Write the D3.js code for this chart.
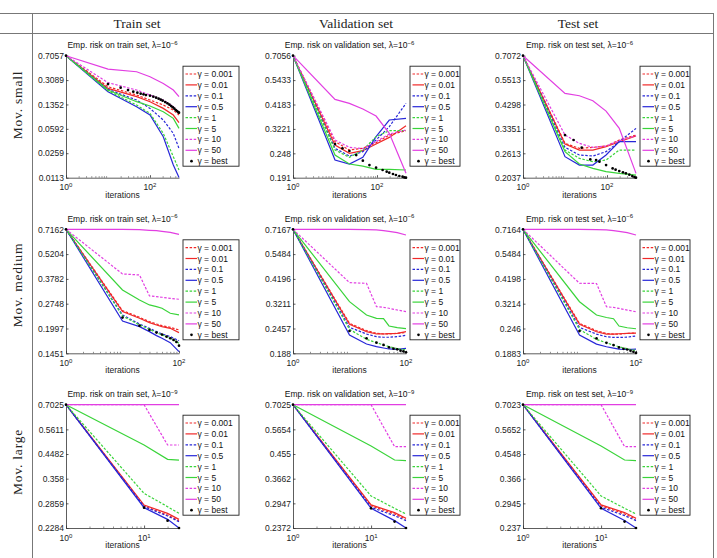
<!DOCTYPE html>
<html>
<head>
<meta charset="utf-8">
<script src="https://d3js.org/d3.v7.min.js"></script>
<style>
  body { margin: 0; background: #fff; }
  svg { font-family: "Liberation Sans", Arial, sans-serif; }
  .head { font-family: "Liberation Serif", serif; font-size: 13.5px; font-weight: 400; fill: #222; }
  .rowlab { font-family: "Liberation Serif", serif; font-size: 13.5px; font-weight: 400; letter-spacing: 0.8px; fill: #222; }
  .tick text { font-size: 8.5px; fill: #222; }
</style>
</head>
<body>
<svg id="chart" width="717" height="558"></svg>
<script>
// ---- table labels ----
var colNames = ["Train set", "Validation set", "Test set"];
var rowNames = ["Mov. small", "Mov. medium", "Mov. large"];
var setWords = ["train", "validation", "test"];
var lambdaExp = ["\u22126", "\u22126", "\u22129"];
var gammaLabels = ["\u03b3 = 0.001", "\u03b3 = 0.01", "\u03b3 = 0.1", "\u03b3 = 0.5", "\u03b3 = 1", "\u03b3 = 5", "\u03b3 = 10", "\u03b3 = 50", "\u03b3 = best"];

// ---- x axes (iterations) ----
var xMaxRow = [490, 100, 28];
var xTickRow = [[1, 100], [1, 100], [1, 10]];
var xTickExp = [["0", "2"], ["0", "2"], ["0", "1"]];

// ---- y ticks per panel ----
var yTicksSmallTrain = [0.7057, 0.3089, 0.1352, 0.0592, 0.0259, 0.0113];
var yTicksSmallVal   = [0.7056, 0.5433, 0.4183, 0.3221, 0.248, 0.191];
var yTicksSmallTest  = [0.7072, 0.5513, 0.4298, 0.3351, 0.2613, 0.2037];
var yTicksMedTrain   = [0.7162, 0.5204, 0.3782, 0.2748, 0.1997, 0.1451];
var yTicksMedVal     = [0.7167, 0.5484, 0.4196, 0.3211, 0.2457, 0.188];
var yTicksMedTest    = [0.7164, 0.5484, 0.4198, 0.3214, 0.246, 0.1883];
var yTicksLargeTrain = [0.7025, 0.5611, 0.4482, 0.358, 0.2859, 0.2284];
var yTicksLargeVal   = [0.7025, 0.5654, 0.455, 0.3662, 0.2947, 0.2372];
var yTicksLargeTest  = [0.7023, 0.5652, 0.4548, 0.366, 0.2945, 0.237];

// ---- iterations where the curves were read ----
var iterSmallTrain = [1, 10, 48, 100, 207, 359, 490];
var iterSmallVal   = [1, 10, 22, 46, 95, 196, 490];
var iterSmallTest  = [1, 10, 22, 46, 95, 196, 490];
var iterMedium     = [1, 10, 20, 30, 40, 50, 70, 100];
var iterLarge      = [1, 10, 20, 28];

// ---- risk curves, one row per gamma: 0.001, 0.01, 0.1, 0.5, 1, 5, 10, 50 ----
var riskSmallTrain = [
  [0.7057, 0.2468, 0.1861, 0.1571, 0.1326, 0.112, 0.0945],
  [0.7057, 0.2332, 0.176, 0.1485, 0.1184, 0.0945, 0.0728],
  [0.7057, 0.2254, 0.1571, 0.1184, 0.0797, 0.0507, 0.0305],
  [0.7057, 0.2084, 0.1253, 0.0945, 0.0453, 0.0174, 0.0114],
  [0.7057, 0.2155, 0.1326, 0.0999, 0.0507, 0.023, 0.0147],
  [0.7057, 0.2205, 0.1485, 0.1282, 0.1058, 0.0844, 0.0601],
  [0.7057, 0.283, 0.2205, 0.1861, 0.1571, 0.1253, 0.1023],
  [0.7057, 0.449, 0.41, 0.346, 0.276, 0.2205, 0.176]
];
var riskSmallVal = [
  [0.7056, 0.2809, 0.2569, 0.2616, 0.2779, 0.3017, 0.316],
  [0.7056, 0.2711, 0.2479, 0.2551, 0.274, 0.2942, 0.3334],
  [0.7056, 0.2616, 0.2409, 0.2524, 0.286, 0.3298, 0.4236],
  [0.7056, 0.2308, 0.2211, 0.2375, 0.2964, 0.3543, 0.3606],
  [0.7056, 0.2569, 0.2375, 0.2569, 0.2964, 0.316, 0.316],
  [0.7056, 0.2435, 0.2211, 0.2163, 0.2089, 0.2089, 0.2074],
  [0.7056, 0.286, 0.2644, 0.2607, 0.2809, 0.305, 0.3182],
  [0.7056, 0.442, 0.4236, 0.3985, 0.3698, 0.3072, 0.2001]
];
var riskSmallTest = [
  [0.7072, 0.2891, 0.2748, 0.2776, 0.2814, 0.2992, 0.3148],
  [0.7072, 0.2871, 0.2701, 0.2701, 0.2795, 0.2941, 0.3116],
  [0.7072, 0.2776, 0.2567, 0.2541, 0.2656, 0.2941, 0.337],
  [0.7072, 0.2524, 0.2318, 0.2318, 0.2567, 0.2941, 0.2941],
  [0.7072, 0.2701, 0.2481, 0.2398, 0.2439, 0.2701, 0.2701],
  [0.7072, 0.2656, 0.2342, 0.224, 0.2166, 0.2129, 0.2093],
  [0.7072, 0.3148, 0.2891, 0.2776, 0.2814, 0.2971, 0.3126],
  [0.7072, 0.4816, 0.4701, 0.4468, 0.402, 0.337, 0.2129]
];
var riskMedTrain = [
  [0.7162, 0.2513, 0.2307, 0.2181, 0.2116, 0.2071, 0.2028, 0.196],
  [0.7162, 0.2482, 0.2278, 0.2153, 0.2089, 0.2045, 0.2002, 0.1894],
  [0.7162, 0.2377, 0.2116, 0.2002, 0.1918, 0.1862, 0.1799, 0.1707],
  [0.7162, 0.22, 0.2045, 0.1918, 0.1822, 0.1761, 0.1665, 0.1483],
  [0.7162, 0.2347, 0.2089, 0.1977, 0.1894, 0.1838, 0.1761, 0.1651],
  [0.7162, 0.328, 0.2884, 0.2704, 0.2646, 0.259, 0.2429, 0.2377],
  [0.7162, 0.403, 0.3978, 0.3037, 0.301, 0.2985, 0.2946, 0.2909],
  [0.7162, 0.7162, 0.7131, 0.707, 0.704, 0.698, 0.6891, 0.6716]
];
var riskMedVal = [
  [0.7167, 0.2599, 0.2401, 0.2333, 0.2316, 0.2316, 0.2333, 0.235],
  [0.7167, 0.2571, 0.2375, 0.2316, 0.2316, 0.2325, 0.2333, 0.2375],
  [0.7167, 0.2488, 0.2316, 0.225, 0.2235, 0.2235, 0.225, 0.2283],
  [0.7167, 0.2291, 0.2079, 0.202, 0.1991, 0.197, 0.1962, 0.1984],
  [0.7167, 0.2435, 0.2187, 0.2109, 0.2057, 0.202, 0.1977, 0.1949],
  [0.7167, 0.3283, 0.2844, 0.2743, 0.2733, 0.2525, 0.248, 0.2453],
  [0.7167, 0.403, 0.4001, 0.3111, 0.3089, 0.3056, 0.3001, 0.2948],
  [0.7167, 0.7167, 0.7141, 0.7116, 0.7064, 0.7014, 0.6913, 0.6741]
];
var riskMedTest = [
  [0.7164, 0.2599, 0.2401, 0.2333, 0.2316, 0.2316, 0.2333, 0.2345],
  [0.7164, 0.2571, 0.2375, 0.2316, 0.2316, 0.2325, 0.2333, 0.234],
  [0.7164, 0.2488, 0.2316, 0.225, 0.2235, 0.2235, 0.224, 0.227],
  [0.7164, 0.2291, 0.2079, 0.202, 0.1991, 0.197, 0.1962, 0.197],
  [0.7164, 0.2435, 0.2187, 0.2109, 0.2057, 0.202, 0.1977, 0.194],
  [0.7164, 0.3282, 0.2844, 0.277, 0.2733, 0.2525, 0.248, 0.2453],
  [0.7164, 0.4005, 0.3995, 0.3108, 0.3087, 0.3055, 0.3, 0.2946],
  [0.7164, 0.7164, 0.714, 0.7114, 0.7062, 0.7012, 0.6911, 0.674]
];
var riskLargeTrain = [
  [0.7025, 0.279, 0.257, 0.2441],
  [0.7025, 0.2816, 0.261, 0.2471],
  [0.7025, 0.2773, 0.2547, 0.2419],
  [0.7025, 0.2749, 0.2471, 0.2284],
  [0.7025, 0.3131, 0.2773, 0.261],
  [0.7025, 0.4866, 0.4269, 0.4242],
  [0.7025, 0.7025, 0.4866, 0.4866],
  [0.7025, 0.7025, 0.7025, 0.7025]
];
var riskLargeVal = [
  [0.7025, 0.288, 0.2683, 0.2561],
  [0.7025, 0.2906, 0.2716, 0.2583],
  [0.7025, 0.2845, 0.2644, 0.2531],
  [0.7025, 0.2821, 0.2531, 0.2372],
  [0.7025, 0.3144, 0.2821, 0.2683],
  [0.7025, 0.4882, 0.4316, 0.429],
  [0.7025, 0.7025, 0.4854, 0.4854],
  [0.7025, 0.7025, 0.7025, 0.7025]
];
var riskLargeTest = [
  [0.7023, 0.2879, 0.2682, 0.256],
  [0.7023, 0.2905, 0.2715, 0.2582],
  [0.7023, 0.2844, 0.2643, 0.253],
  [0.7023, 0.282, 0.253, 0.237],
  [0.7023, 0.3143, 0.282, 0.2682],
  [0.7023, 0.488, 0.4314, 0.4288],
  [0.7023, 0.7023, 0.4852, 0.4852],
  [0.7023, 0.7023, 0.7023, 0.7023]
];

// ---- "best gamma" dots ----
var bestIterSmallTrain = [1, 10, 20, 30, 40, 50, 60, 70, 80, 100, 120, 140, 160, 180, 200, 230, 260, 290, 320, 350, 380, 410, 440, 470, 490];
var bestRiskSmallTrain = [0.7057, 0.27, 0.2386, 0.2205, 0.2084, 0.2014, 0.1947, 0.1903, 0.1861, 0.1819, 0.176, 0.17, 0.1644, 0.1589, 0.1536, 0.1468, 0.1403, 0.1341, 0.1282, 0.1225, 0.1171, 0.112, 0.1082, 0.1046, 0.1023];
var bestIterSmallVal = [1, 10, 15, 22, 32, 46, 66, 95, 136, 170, 196, 240, 282, 340, 406, 450, 490];
var bestRiskSmallVal = [0.7056, 0.274, 0.2616, 0.2542, 0.2435, 0.2292, 0.2187, 0.2126, 0.2074, 0.2037, 0.2015, 0.1987, 0.1966, 0.1945, 0.1931, 0.1916, 0.191];
var bestIterSmallTest = [1, 10, 16, 25, 40, 55, 66, 95, 136, 160, 196, 240, 282, 340, 400, 450, 490];
var bestRiskSmallTest = [0.7072, 0.3148, 0.2992, 0.2767, 0.2455, 0.2439, 0.2398, 0.2318, 0.224, 0.221, 0.218, 0.2151, 0.2129, 0.21, 0.2072, 0.205, 0.2037];
var bestIterMedium = [1, 10, 20, 30, 40, 50, 60, 70, 80, 90, 100];
var bestRiskMedTrain = [0.7162, 0.2297, 0.2071, 0.196, 0.1894, 0.1846, 0.1799, 0.1761, 0.1723, 0.168, 0.1601];
var bestRiskMedVal = [0.7167, 0.2392, 0.221, 0.2109, 0.2057, 0.2005, 0.1977, 0.1962, 0.1935, 0.1921, 0.1901];
var bestRiskMedTest = [0.7164, 0.2392, 0.221, 0.2109, 0.2057, 0.2005, 0.1977, 0.1962, 0.1935, 0.1915, 0.189];
var bestIterLarge = [1, 10, 20, 28];
var bestRiskLargeTrain = [0.7025, 0.2749, 0.2441, 0.2284];
var bestRiskLargeVal = [0.7025, 0.2821, 0.2509, 0.2372];
var bestRiskLargeTest = [0.7023, 0.282, 0.2508, 0.237];

// series styles (gamma order)
var lineColors = ["#f02828", "#f02828", "#2727d8", "#2727d8", "#3ad43a", "#3ad43a", "#e23ee2", "#e23ee2"];
var lineDashed = [true, false, true, false, true, false, true, false];

var panels = [
  {iter: iterSmallTrain, risk: riskSmallTrain, bx: bestIterSmallTrain, by: bestRiskSmallTrain, yt: yTicksSmallTrain},
  {iter: iterSmallVal, risk: riskSmallVal, bx: bestIterSmallVal, by: bestRiskSmallVal, yt: yTicksSmallVal},
  {iter: iterSmallTest, risk: riskSmallTest, bx: bestIterSmallTest, by: bestRiskSmallTest, yt: yTicksSmallTest},
  {iter: iterMedium, risk: riskMedTrain, bx: bestIterMedium, by: bestRiskMedTrain, yt: yTicksMedTrain},
  {iter: iterMedium, risk: riskMedVal, bx: bestIterMedium, by: bestRiskMedVal, yt: yTicksMedVal},
  {iter: iterMedium, risk: riskMedTest, bx: bestIterMedium, by: bestRiskMedTest, yt: yTicksMedTest},
  {iter: iterLarge, risk: riskLargeTrain, bx: bestIterLarge, by: bestRiskLargeTrain, yt: yTicksLargeTrain},
  {iter: iterLarge, risk: riskLargeVal, bx: bestIterLarge, by: bestRiskLargeVal, yt: yTicksLargeVal},
  {iter: iterLarge, risk: riskLargeTest, bx: bestIterLarge, by: bestRiskLargeTest, yt: yTicksLargeTest}
];

// layout
var colAxisX = [66, 293, 523];
var plotW = 113;
var rowTop = [55.7, 229.3, 404.7];
var rowH = [122, 124, 123.3];
var legendW = [56, 50, 50];
var headX = [137, 356, 578];
var rowLabY = [105, 285, 462];

var svg = d3.select("#chart");

// table frame
var frame = svg.append("g").attr("stroke", "#777").attr("stroke-width", 1);
frame.append("line").attr("x1", 0).attr("x2", 714).attr("y1", 13.5).attr("y2", 13.5);
frame.append("line").attr("x1", 0).attr("x2", 714).attr("y1", 33.5).attr("y2", 33.5);
frame.append("line").attr("x1", 32.5).attr("x2", 32.5).attr("y1", 13.5).attr("y2", 558);
frame.append("line").attr("x1", 713.5).attr("x2", 713.5).attr("y1", 13.5).attr("y2", 558);

colNames.forEach(function(t, i) {
  svg.append("text").attr("class", "head")
    .attr("x", headX[i]).attr("y", 28).attr("text-anchor", "middle").text(t);
});
rowNames.forEach(function(t, i) {
  svg.append("text").attr("class", "rowlab")
    .attr("transform", "translate(22," + rowLabY[i] + ") rotate(-90)")
    .attr("text-anchor", "middle").text(t);
});

panels.forEach(function(p, k) {
  var r = Math.floor(k / 3), c = k % 3;
  var x0 = colAxisX[c], y0 = rowTop[r], h = rowH[r];
  var g = svg.append("g");

  var x = d3.scaleLog().domain([1, xMaxRow[r]]).range([x0, x0 + plotW]);
  var y = d3.scaleLog().domain([p.yt[5], p.yt[0]]).range([y0 + h, y0]);

  // minor x ticks
  var minor = [];
  [1, 10, 100].forEach(function(dec) {
    for (var m = 2; m <= 9; m++) if (dec * m < xMaxRow[r]) minor.push(dec * m);
  });
  g.append("g").attr("transform", "translate(0," + (y0 + h) + ")")
    .call(d3.axisBottom(x).tickValues(minor).tickFormat("").tickSizeInner(-1.5).tickSizeOuter(0))
    .call(function(s) { s.select(".domain").remove(); s.selectAll("line").attr("stroke", "#444").attr("stroke-width", 0.6); });

  // x axis
  g.append("g").attr("transform", "translate(0," + (y0 + h) + ")")
    .call(d3.axisBottom(x).tickValues(xTickRow[r]).tickFormat("").tickSizeInner(-2.5).tickSizeOuter(0))
    .call(function(s) { s.selectAll("path,line").attr("stroke", "#333").attr("stroke-width", 0.8); });

  xTickRow[r].forEach(function(v, i) {
    var t = g.append("text").attr("x", x(v)).attr("y", y0 + h + 12.5)
      .attr("text-anchor", "middle").attr("font-size", 8.5).attr("fill", "#222");
    t.append("tspan").text("10");
    t.append("tspan").attr("dy", -3).attr("font-size", 6).text(xTickExp[r][i]);
  });
  g.append("text").attr("x", x0 + plotW / 2).attr("y", y0 + h + 20)
    .attr("text-anchor", "middle").attr("font-size", 8.5).attr("fill", "#222").text("iterations");

  // y axis
  g.append("g").attr("transform", "translate(" + x0 + ",0)")
    .call(d3.axisLeft(y).tickValues(p.yt).tickFormat(function(d) { return String(d); })
      .tickSizeInner(-2.5).tickSizeOuter(0).tickPadding(2))
    .call(function(s) {
      s.selectAll("path,line").attr("stroke", "#333").attr("stroke-width", 0.8);
      s.selectAll("text").attr("font-family", "Liberation Sans, Arial, sans-serif");
    });

  // title
  var tt = g.append("text").attr("x", x0 + plotW / 2).attr("y", y0 - 7.5)
    .attr("text-anchor", "middle").attr("font-size", 8.5).attr("fill", "#111");
  tt.append("tspan").text("Emp. risk on " + setWords[c] + " set, \u03bb=10");
  tt.append("tspan").attr("dy", -3.5).attr("font-size", 6).text(lambdaExp[r]);

  // curves
  var line = d3.line().x(function(d) { return x(d[0]); }).y(function(d) { return y(d[1]); });
  p.risk.forEach(function(vals, s) {
    g.append("path")
      .datum(p.iter.map(function(it, i) { return [it, vals[i]]; }))
      .attr("fill", "none").attr("stroke", lineColors[s]).attr("stroke-width", 1.2)
      .attr("stroke-dasharray", lineDashed[s] ? "2.5,1.6" : null)
      .attr("d", line);
  });
  g.selectAll("circle.best").data(p.bx.map(function(it, i) { return [it, p.by[i]]; }))
    .enter().append("circle").attr("class", "best")
    .attr("cx", function(d) { return x(d[0]); })
    .attr("cy", function(d) { return y(d[1]); })
    .attr("r", 1.35).attr("fill", "#000");

  // legend
  var lx = x0 + 117, ly = y0 + 10.5;
  var lg = g.append("g");
  lg.append("rect").attr("x", lx).attr("y", ly).attr("width", legendW[c]).attr("height", 100)
    .attr("fill", "#fff").attr("stroke", "#222").attr("stroke-width", 0.9);
  gammaLabels.forEach(function(lab, i) {
    var yy = ly + 7.8 + i * 10.9;
    if (i < 8) {
      lg.append("line").attr("x1", lx + 2.5).attr("x2", lx + 14).attr("y1", yy).attr("y2", yy)
        .attr("stroke", lineColors[i]).attr("stroke-width", 1.2)
        .attr("stroke-dasharray", lineDashed[i] ? "2.5,1.6" : null);
    } else {
      lg.append("circle").attr("cx", lx + 8.5).attr("cy", yy).attr("r", 1.35).attr("fill", "#000");
    }
    lg.append("text").attr("x", lx + 14.5).attr("y", yy + 3).attr("font-size", 8.5)
      .attr("fill", "#111").text(lab);
  });
});
</script>
</body>
</html>
